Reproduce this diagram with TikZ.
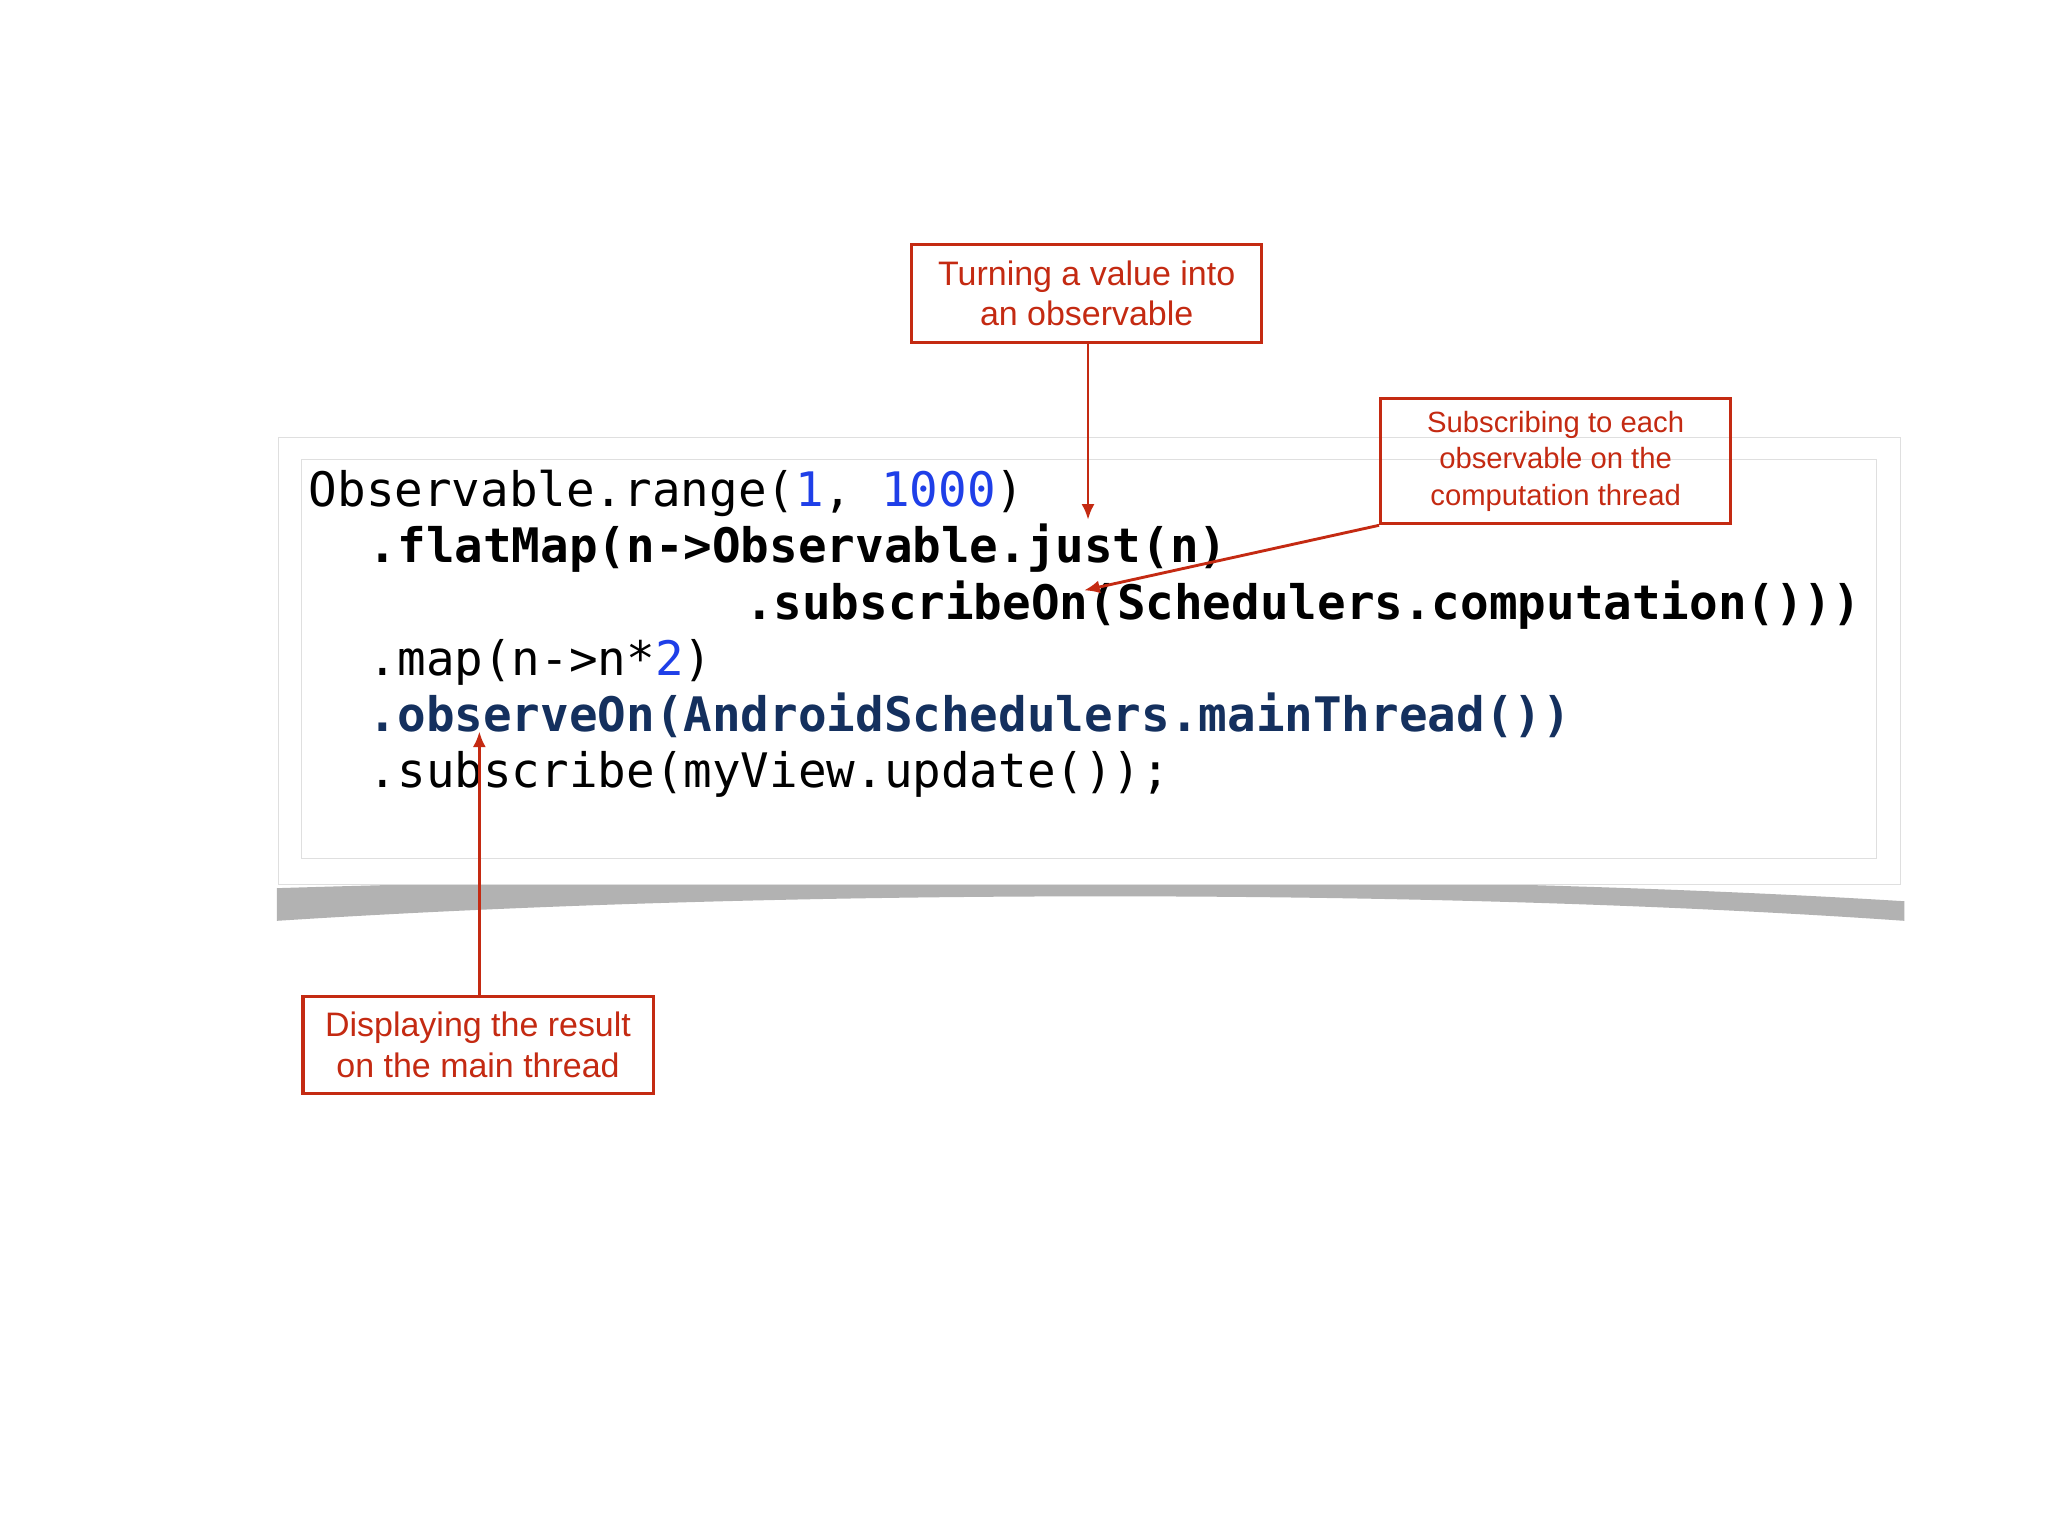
\documentclass[tikz,border=0pt]{standalone}
\usepackage{fontspec}
\setmainfont{Liberation Sans}
\setmonofont{DejaVu Sans Mono}
\definecolor{rd}{HTML}{C42A12}
\definecolor{nb}{HTML}{1F3FE8}
\definecolor{db}{HTML}{14305E}
\tikzset{
 lbl/.style={draw=rd,line width=1.2pt,text=rd,align=center,font=\fontsize{13}{15.5}\selectfont,minimum width=134pt,inner sep=0pt},
 code/.style={anchor=base west,inner sep=0pt,font=\ttfamily\fontsize{18.2}{20}\selectfont},
 arr/.style={draw=rd,line width=1.1pt,-{Latex[length=6pt,width=5pt]}}
}
\usetikzlibrary{arrows.meta}
\begin{document}
\begin{tikzpicture}[x=0.5pt,y=-0.5pt]
\useasboundingbox[fill=white] (0,0) rectangle (1568,1176);
% shadow
\fill[gray!60] (212,680) .. controls (600,668) and (1100,668) .. (1458,690) -- (1458,705) .. controls (1100,680) and (600,680) .. (212,705) -- cycle;
\fill[white,draw=gray!25] (213,335) rectangle (1455,677);
\draw[gray!25] (231,352) rectangle (1437,657);
% code
\node[code] (l1) at (236,388) {Observable.range(\textcolor{nb}{1}, \textcolor{nb}{1000})};
\node[code] (l2) at (282,431) {\bfseries .flatMap(n->Observable.just(n)};
\node[code] (l3) at (570,474) {\bfseries .subscribeOn(Schedulers.computation()))};
\node[code] (l4) at (282,517) {.map(n->n*\textcolor{nb}{2})};
\node[code,text=db] (l5) at (282,560) {\bfseries .observeOn(AndroidSchedulers.mainThread())};
\node[code] (l6) at (282,603) {.subscribe(myView.update());};
% labels
\node[lbl,minimum height=37.5pt] (b1) at (832,224.5) {Turning a value into\\an observable};
\node[lbl,minimum height=48pt,font=\fontsize{11.2}{14}\selectfont] (b2) at (1191,353) {Subscribing to each\\observable on the\\computation thread};
\node[lbl,minimum height=37pt] (b3) at (366,800) {Displaying the result\\on the main thread};
\coordinate (t1) at (833,398);
\coordinate (t2) at (830,452);
\coordinate (t3) at (367,560);
\draw[arr] (b1.south -| t1) -- (t1);
\draw[arr] (b2.south west) -- (t2);
\draw[arr] (b3.north -| t3) -- (t3);
\end{tikzpicture}
\end{document}
